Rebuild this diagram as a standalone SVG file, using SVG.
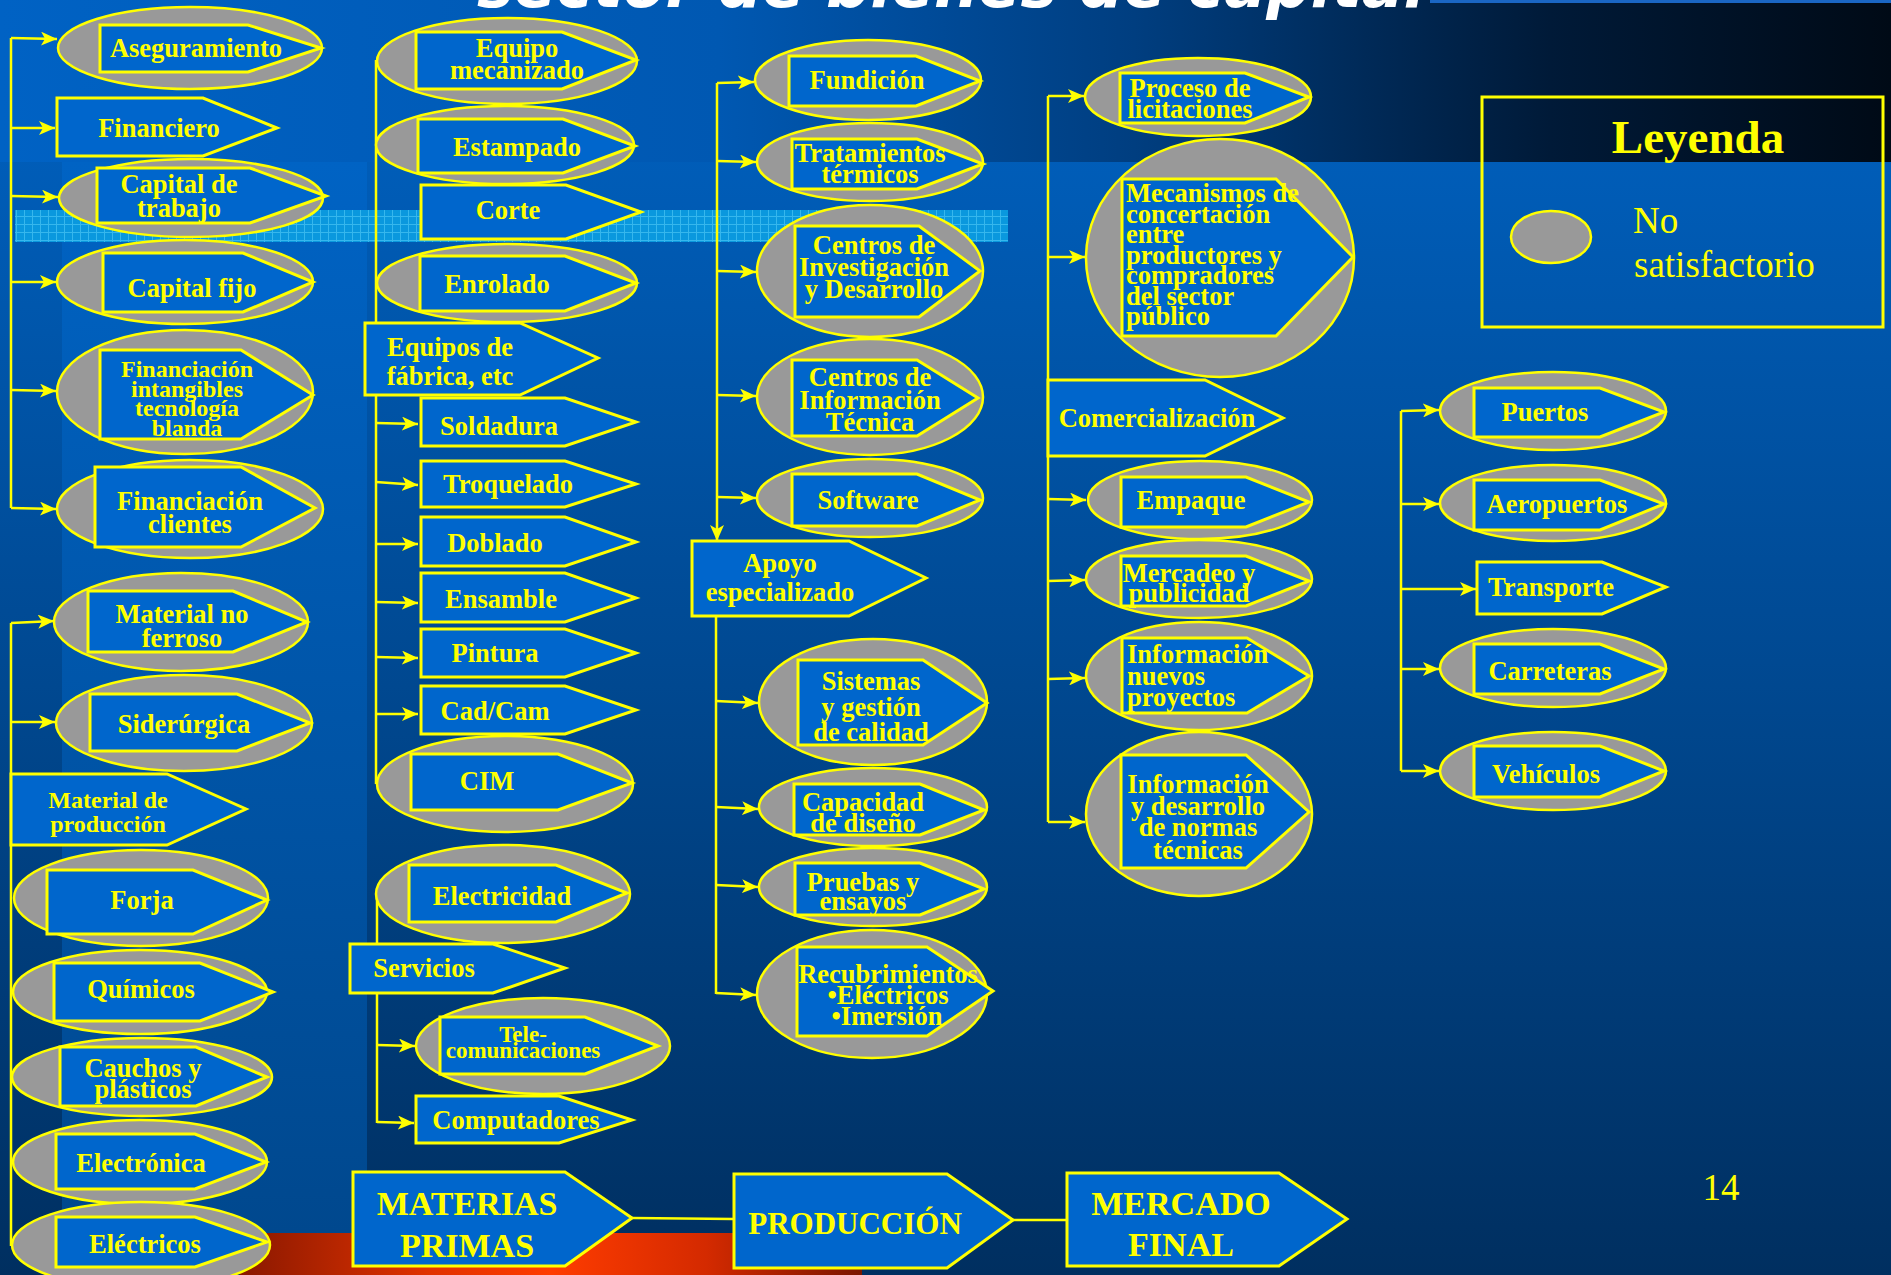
<svg xmlns="http://www.w3.org/2000/svg" width="1891" height="1275" viewBox="0 0 1891 1275">
  <defs>
    <linearGradient id="bgMain" x1="0" y1="0" x2="0" y2="1">
      <stop offset="0" stop-color="#0063c4"/>
      <stop offset="0.5" stop-color="#004a94"/>
      <stop offset="1" stop-color="#002f60"/>
    </linearGradient>
    <linearGradient id="bgPanel" x1="0" y1="0" x2="0" y2="1">
      <stop offset="0" stop-color="#0063c4"/>
      <stop offset="1" stop-color="#00488e"/>
    </linearGradient>
    <linearGradient id="bgTop" x1="0" y1="0" x2="1" y2="0">
      <stop offset="0" stop-color="#0062c4"/>
      <stop offset="0.38" stop-color="#0058b2"/>
      <stop offset="0.6" stop-color="#003e80"/>
      <stop offset="0.82" stop-color="#001a38"/>
      <stop offset="1" stop-color="#000a16"/>
    </linearGradient>
    <linearGradient id="redBar" x1="0" y1="0" x2="1" y2="0">
      <stop offset="0" stop-color="#8a1800"/>
      <stop offset="0.3" stop-color="#e03200"/>
      <stop offset="0.5" stop-color="#ff3c00"/>
      <stop offset="0.75" stop-color="#d42a00"/>
      <stop offset="1" stop-color="#7a1600"/>
    </linearGradient>
    <pattern id="grid" x="0" y="0" width="8" height="8" patternUnits="userSpaceOnUse">
      <rect width="8" height="8" fill="#0a98de"/>
      <path d="M0,0.5 H8 M0.5,0 V8" stroke="#48c4f4" stroke-width="1" opacity="0.7"/>
    </pattern>
    <marker id="arr" markerUnits="userSpaceOnUse" markerWidth="17" markerHeight="14" refX="16" refY="7" orient="auto">
      <path d="M0,0 L16,7 L0,14 L4,7 z" fill="#ffff00"/>
    </marker>
  </defs>
  <style>
    .ell { fill: #999999; stroke: #ffff00; stroke-width: 2.5; }
    .pent { fill: #0066cc; stroke: #ffff00; stroke-width: 3; stroke-linejoin: miter; }
    .lbl { font-family: "Liberation Serif", "Times New Roman", serif; font-weight: bold; font-size: 26.5px; fill: #ffff00; text-anchor: middle; }
    .lft { text-anchor: start; }
    .sm { font-size: 24px; }
    .xs { font-size: 23px; }
    .mid { font-size: 31px; }
    .big { font-size: 34px; }
    .head { font-size: 47px; }
    .wire { stroke: #ffff00; stroke-width: 2.5; fill: none; }
    .arw { marker-end: url(#arr); }
    .plain { font-family: "Liberation Serif", "Times New Roman", serif; font-size: 37px; fill: #ffff00; }
  </style>

  <!-- background -->
  <g id="background">
    <rect x="0" y="0" width="1891" height="1275" fill="url(#bgMain)"/>
    <rect x="62" y="162" width="305" height="1071" fill="url(#bgPanel)"/>
    <rect x="0" y="0" width="1891" height="162" fill="url(#bgTop)"/>
    <rect x="1430" y="0" width="461" height="3" fill="#1a66c4"/>
    <rect x="15" y="210" width="993" height="32" fill="url(#grid)"/>
    <rect x="240" y="1233" width="622" height="42" fill="url(#redBar)"/>
    <text x="477" y="7" font-family="DejaVu Sans, sans-serif" font-weight="bold" font-style="italic" font-size="62" fill="#ffffff" textLength="948" lengthAdjust="spacingAndGlyphs">sector de bienes de capital</text>
  </g>

  <!-- connectors -->
  <g id="connectors">
    <!-- column 1, upper -->
    <path class="wire" d="M11,38 V508"/>
    <path class="wire arw" d="M11,38 L57,39"/>
    <path class="wire arw" d="M11,128 L55,128"/>
    <path class="wire arw" d="M11,196 L58,197"/>
    <path class="wire arw" d="M11,282 L56,282"/>
    <path class="wire arw" d="M11,390 L56,391"/>
    <path class="wire arw" d="M11,508 L56,509"/>
    <!-- column 1, lower -->
    <path class="wire" d="M11,623 V1246"/>
    <path class="wire arw" d="M11,623 L54,621"/>
    <path class="wire arw" d="M11,722 L55,722"/>
    <!-- column 2 -->
    <path class="wire" d="M376,60 V784"/>
    <path class="wire arw" d="M376,423 L418,424"/>
    <path class="wire arw" d="M376,482 L418,485"/>
    <path class="wire arw" d="M376,544 L418,544"/>
    <path class="wire arw" d="M376,602 L418,603"/>
    <path class="wire arw" d="M376,657 L418,658"/>
    <path class="wire arw" d="M376,714 L418,714"/>
    <path class="wire" d="M377,894 V1123"/>
    <path class="wire arw" d="M377,1045 L415,1046"/>
    <path class="wire arw" d="M377,1122 L414,1123"/>
    <!-- main chain -->
    <path class="wire" d="M632,1218 L734,1219"/>
    <path class="wire" d="M1013,1220 L1067,1220"/>
    <!-- column 3 -->
    <path class="wire arw" d="M717,83 V541"/>
    <path class="wire arw" d="M717,83 L754,82"/>
    <path class="wire arw" d="M717,161 L756,162"/>
    <path class="wire arw" d="M717,271 L756,272"/>
    <path class="wire arw" d="M717,395 L756,396"/>
    <path class="wire arw" d="M717,497 L756,498"/>
    <path class="wire" d="M716,616 V994"/>
    <path class="wire arw" d="M716,701 L758,703"/>
    <path class="wire arw" d="M716,807 L758,809"/>
    <path class="wire arw" d="M716,885 L758,887"/>
    <path class="wire arw" d="M716,993 L756,995"/>
    <!-- column 4 -->
    <path class="wire" d="M1048,96 V822"/>
    <path class="wire arw" d="M1048,96 L1084,96"/>
    <path class="wire arw" d="M1048,257 L1085,257"/>
    <path class="wire arw" d="M1048,499 L1086,500"/>
    <path class="wire arw" d="M1048,581 L1085,580"/>
    <path class="wire arw" d="M1048,679 L1085,678"/>
    <path class="wire arw" d="M1048,822 L1085,822"/>
    <!-- column 5 -->
    <path class="wire" d="M1401,411 V771"/>
    <path class="wire arw" d="M1401,411 L1439,410"/>
    <path class="wire arw" d="M1401,504 L1439,504"/>
    <path class="wire arw" d="M1401,589 L1476,589"/>
    <path class="wire arw" d="M1401,669 L1439,669"/>
    <path class="wire arw" d="M1401,771 L1439,771"/>
  </g>

  <!-- column 1 -->
  <g id="n-aseguramiento">
    <ellipse class="ell" cx="190" cy="48" rx="132" ry="41"/>
    <polygon class="pent" points="100,25 248,25 321,48 248,72 100,72"/>
    <text class="lbl" x="196" y="57">Aseguramiento</text>
  </g>
  <g id="n-financiero">
    <polygon class="pent" points="57,98 203,98 277,128 203,156 57,156"/>
    <text class="lbl" x="159" y="137">Financiero</text>
  </g>
  <g id="n-capital-trabajo">
    <ellipse class="ell" cx="191" cy="198" rx="132" ry="39"/>
    <polygon class="pent" points="97,168 250,168 326,196 250,223 97,223"/>
    <text class="lbl" x="179"><tspan x="179" y="193">Capital de</tspan><tspan x="179" y="217">trabajo</tspan></text>
  </g>
  <g id="n-capital-fijo">
    <ellipse class="ell" cx="185" cy="282" rx="128" ry="42"/>
    <polygon class="pent" points="103,253 243,253 313,282 243,312 103,312"/>
    <text class="lbl" x="192" y="297">Capital fijo</text>
  </g>
  <g id="n-fin-intangibles">
    <ellipse class="ell" cx="185" cy="392" rx="128" ry="62"/>
    <polygon class="pent" points="100,350 241,350 313,395 241,439 100,439"/>
    <text class="lbl sm" x="187"><tspan x="187" y="377">Financiación</tspan><tspan x="187" y="397">intangibles</tspan><tspan x="187" y="416">tecnología</tspan><tspan x="187" y="436">blanda</tspan></text>
  </g>
  <g id="n-fin-clientes">
    <ellipse class="ell" cx="190" cy="509" rx="133" ry="49"/>
    <polygon class="pent" points="95,467 241,467 315,508 241,547 95,547"/>
    <text class="lbl" x="190"><tspan x="190" y="510">Financiación</tspan><tspan x="190" y="533">clientes</tspan></text>
  </g>
  <g id="n-material-no-ferroso">
    <ellipse class="ell" cx="181" cy="622" rx="127" ry="49"/>
    <polygon class="pent" points="88,591 233,591 307,622 233,652 88,652"/>
    <text class="lbl" x="182"><tspan x="182" y="623">Material no</tspan><tspan x="182" y="647">ferroso</tspan></text>
  </g>
  <g id="n-siderurgica">
    <ellipse class="ell" cx="184" cy="723" rx="128" ry="48"/>
    <polygon class="pent" points="90,694 237,694 310,723 237,751 90,751"/>
    <text class="lbl" x="184" y="733">Siderúrgica</text>
  </g>
  <g id="n-material-produccion">
    <polygon class="pent" points="11,774 167,774 246,809 167,845 11,845"/>
    <text class="lbl sm" x="108"><tspan x="108" y="808">Material de</tspan><tspan x="108" y="832">producción</tspan></text>
  </g>
  <g id="n-forja">
    <ellipse class="ell" cx="141" cy="898" rx="127" ry="48"/>
    <polygon class="pent" points="47,870 193,870 267,900 193,934 47,934"/>
    <text class="lbl" x="142" y="909">Forja</text>
  </g>
  <g id="n-quimicos">
    <ellipse class="ell" cx="140" cy="992" rx="127" ry="42"/>
    <polygon class="pent" points="54,963 200,963 273,992 200,1021 54,1021"/>
    <text class="lbl" x="141" y="998">Químicos</text>
  </g>
  <g id="n-cauchos">
    <ellipse class="ell" cx="142" cy="1077" rx="130" ry="39"/>
    <polygon class="pent" points="60,1047 196,1047 267,1077 196,1106 60,1106"/>
    <text class="lbl" x="143"><tspan x="143" y="1077">Cauchos y</tspan><tspan x="143" y="1098">plásticos</tspan></text>
  </g>
  <g id="n-electronica">
    <ellipse class="ell" cx="140" cy="1162" rx="127" ry="42"/>
    <polygon class="pent" points="56,1134 195,1134 266,1162 195,1189 56,1189"/>
    <text class="lbl" x="141" y="1172">Electrónica</text>
  </g>
  <g id="n-electricos">
    <ellipse class="ell" cx="141" cy="1245" rx="129" ry="43"/>
    <polygon class="pent" points="56,1217 195,1217 267,1242 195,1267 56,1267"/>
    <text class="lbl" x="145" y="1253">Eléctricos</text>
  </g>

  <!-- column 2 -->
  <g id="n-equipo-mecanizado">
    <ellipse class="ell" cx="507" cy="61" rx="130" ry="43"/>
    <polygon class="pent" points="416,32 562,32 636,60 562,89 416,89"/>
    <text class="lbl" x="517"><tspan x="517" y="57">Equipo</tspan><tspan x="517" y="79">mecanizado</tspan></text>
  </g>
  <g id="n-estampado">
    <ellipse class="ell" cx="505" cy="145" rx="129" ry="39"/>
    <polygon class="pent" points="418,119 563,119 635,146 563,173 418,173"/>
    <text class="lbl" x="517" y="156">Estampado</text>
  </g>
  <g id="n-corte">
    <polygon class="pent" points="421,185 566,185 641,212 566,239 421,239"/>
    <text class="lbl" x="508" y="219">Corte</text>
  </g>
  <g id="n-enrolado">
    <ellipse class="ell" cx="507" cy="283" rx="130" ry="39"/>
    <polygon class="pent" points="420,256 565,256 636,283 565,311 420,311"/>
    <text class="lbl" x="497" y="293">Enrolado</text>
  </g>
  <g id="n-equipos-fabrica">
    <polygon class="pent" points="365,323 520,323 598,358 520,395 365,395"/>
    <text class="lbl" x="450"><tspan x="450" y="356">Equipos de</tspan><tspan x="450" y="385">fábrica, etc</tspan></text>
  </g>
  <g id="n-soldadura">
    <polygon class="pent" points="421,398 565,398 636,422 565,446 421,446"/>
    <text class="lbl" x="499" y="435">Soldadura</text>
  </g>
  <g id="n-troquelado">
    <polygon class="pent" points="421,461 565,461 636,484 565,507 421,507"/>
    <text class="lbl" x="508" y="493">Troquelado</text>
  </g>
  <g id="n-doblado">
    <polygon class="pent" points="421,517 565,517 636,542 565,566 421,566"/>
    <text class="lbl" x="495" y="552">Doblado</text>
  </g>
  <g id="n-ensamble">
    <polygon class="pent" points="421,573 565,573 636,598 565,622 421,622"/>
    <text class="lbl" x="501" y="608">Ensamble</text>
  </g>
  <g id="n-pintura">
    <polygon class="pent" points="421,629 565,629 636,653 565,677 421,677"/>
    <text class="lbl" x="495" y="662">Pintura</text>
  </g>
  <g id="n-cadcam">
    <polygon class="pent" points="421,686 565,686 636,710 565,734 421,734"/>
    <text class="lbl" x="495" y="720">Cad/Cam</text>
  </g>
  <g id="n-cim">
    <ellipse class="ell" cx="505" cy="784" rx="128" ry="48"/>
    <polygon class="pent" points="411,754 558,754 632,783 558,810 411,810"/>
    <text class="lbl" x="487" y="790">CIM</text>
  </g>
  <g id="n-electricidad">
    <ellipse class="ell" cx="503" cy="894" rx="127" ry="49"/>
    <polygon class="pent" points="409,865 556,865 627,893 556,922 409,922"/>
    <text class="lbl" x="502" y="905">Electricidad</text>
  </g>
  <g id="n-servicios">
    <polygon class="pent" points="350,944 493,944 565,968 493,993 350,993"/>
    <text class="lbl" x="424" y="977">Servicios</text>
  </g>
  <g id="n-telecomunicaciones">
    <ellipse class="ell" cx="543" cy="1046" rx="127" ry="48"/>
    <polygon class="pent" points="440,1017 585,1017 658,1046 585,1074 440,1074"/>
    <text class="lbl xs" x="523"><tspan x="523" y="1042">Tele-</tspan><tspan x="523" y="1058">comunicaciones</tspan></text>
  </g>
  <g id="n-computadores">
    <polygon class="pent" points="416,1096 559,1096 632,1120 559,1143 416,1143"/>
    <text class="lbl" x="516" y="1129">Computadores</text>
  </g>

  <!-- main chain -->
  <g id="n-materias-primas">
    <polygon class="pent" points="353,1172 565,1172 632,1218 565,1266 353,1266"/>
    <text class="lbl big" x="467"><tspan x="467" y="1215">MATERIAS</tspan><tspan x="467" y="1257">PRIMAS</tspan></text>
  </g>
  <g id="n-produccion">
    <polygon class="pent" points="734,1174 947,1174 1013,1220 947,1268 734,1268"/>
    <text class="lbl mid" x="855" y="1234">PRODUCCIÓN</text>
  </g>
  <g id="n-mercado-final">
    <polygon class="pent" points="1067,1173 1279,1173 1347,1219 1279,1266 1067,1266"/>
    <text class="lbl big" x="1181"><tspan x="1181" y="1215">MERCADO</tspan><tspan x="1181" y="1256">FINAL</tspan></text>
  </g>

  <!-- column 3 -->
  <g id="n-fundicion">
    <ellipse class="ell" cx="868" cy="80" rx="113" ry="40"/>
    <polygon class="pent" points="789,56 916,56 980,81 916,106 789,106"/>
    <text class="lbl" x="867" y="89">Fundición</text>
  </g>
  <g id="n-tratamientos">
    <ellipse class="ell" cx="870" cy="162" rx="113" ry="39"/>
    <polygon class="pent" points="792,139 917,139 983,164 917,189 792,189"/>
    <text class="lbl" x="870"><tspan x="870" y="162">Tratamientos</tspan><tspan x="870" y="183">térmicos</tspan></text>
  </g>
  <g id="n-centros-id">
    <ellipse class="ell" cx="870" cy="271" rx="113" ry="66"/>
    <polygon class="pent" points="795,226 919,226 980,271 919,317 795,317"/>
    <text class="lbl" x="874"><tspan x="874" y="254">Centros de</tspan><tspan x="874" y="276">Investigación</tspan><tspan x="874" y="298">y Desarrollo</tspan></text>
  </g>
  <g id="n-centros-it">
    <ellipse class="ell" cx="870" cy="397" rx="113" ry="58"/>
    <polygon class="pent" points="792,360 917,360 978,398 917,436 792,436"/>
    <text class="lbl" x="870"><tspan x="870" y="386">Centros de</tspan><tspan x="870" y="409">Información</tspan><tspan x="870" y="431">Técnica</tspan></text>
  </g>
  <g id="n-software">
    <ellipse class="ell" cx="870" cy="498" rx="113" ry="39"/>
    <polygon class="pent" points="792,474 917,474 980,500 917,526 792,526"/>
    <text class="lbl" x="868" y="509">Software</text>
  </g>
  <g id="n-apoyo">
    <polygon class="pent" points="692,541 849,541 926,578 849,616 692,616"/>
    <text class="lbl" x="780"><tspan x="780" y="572">Apoyo</tspan><tspan x="780" y="601">especializado</tspan></text>
  </g>
  <g id="n-sistemas">
    <ellipse class="ell" cx="873" cy="702" rx="114" ry="63"/>
    <polygon class="pent" points="798,660 923,660 987,703 923,745 798,745"/>
    <text class="lbl" x="871"><tspan x="871" y="690">Sistemas</tspan><tspan x="871" y="716">y gestión</tspan><tspan x="871" y="741">de calidad</tspan></text>
  </g>
  <g id="n-capacidad">
    <ellipse class="ell" cx="873" cy="807" rx="114" ry="39"/>
    <polygon class="pent" points="794,784 920,784 984,810 920,835 794,835"/>
    <text class="lbl" x="863"><tspan x="863" y="811">Capacidad</tspan><tspan x="863" y="832">de diseño</tspan></text>
  </g>
  <g id="n-pruebas">
    <ellipse class="ell" cx="873" cy="887" rx="114" ry="39"/>
    <polygon class="pent" points="795,863 920,863 984,889 920,915 795,915"/>
    <text class="lbl" x="863"><tspan x="863" y="891">Pruebas y</tspan><tspan x="863" y="910">ensayos</tspan></text>
  </g>
  <g id="n-recubrimientos">
    <ellipse class="ell" cx="872" cy="994" rx="115" ry="64"/>
    <polygon class="pent" points="797,947 927,947 993,991 927,1036 797,1036"/>
    <text class="lbl" x="888"><tspan x="888" y="983">Recubrimientos</tspan><tspan x="888" y="1004">•Eléctricos</tspan><tspan x="887" y="1025">•Imersión</tspan></text>
  </g>

  <!-- column 4 -->
  <g id="n-licitaciones">
    <ellipse class="ell" cx="1198" cy="97" rx="113" ry="39"/>
    <polygon class="pent" points="1120,73 1245,73 1309,97 1245,123 1120,123"/>
    <text class="lbl" x="1190"><tspan x="1190" y="97">Proceso de</tspan><tspan x="1190" y="118">licitaciones</tspan></text>
  </g>
  <g id="n-mecanismos">
    <ellipse class="ell" cx="1220" cy="258" rx="134" ry="119"/>
    <polygon class="pent" points="1122,179 1276,179 1353,257 1276,336 1122,336"/>
    <text class="lbl lft" x="1126"><tspan x="1126" y="202">Mecanismos de</tspan><tspan x="1126" y="223">concertación</tspan><tspan x="1126" y="243">entre</tspan><tspan x="1126" y="264">productores y</tspan><tspan x="1126" y="284">compradores</tspan><tspan x="1126" y="305">del sector</tspan><tspan x="1126" y="325">público</tspan></text>
  </g>
  <g id="n-comercializacion">
    <polygon class="pent" points="1048,380 1205,380 1283,418 1205,456 1048,456"/>
    <text class="lbl" x="1157" y="427">Comercialización</text>
  </g>
  <g id="n-empaque">
    <ellipse class="ell" cx="1200" cy="500" rx="112" ry="39"/>
    <polygon class="pent" points="1121,477 1246,477 1309,502 1246,527 1121,527"/>
    <text class="lbl" x="1191" y="509">Empaque</text>
  </g>
  <g id="n-mercadeo">
    <ellipse class="ell" cx="1199" cy="579" rx="113" ry="39"/>
    <polygon class="pent" points="1121,556 1246,556 1309,581 1246,606 1121,606"/>
    <text class="lbl" x="1189"><tspan x="1189" y="582">Mercadeo y</tspan><tspan x="1189" y="602">publicidad</tspan></text>
  </g>
  <g id="n-info-nuevos">
    <ellipse class="ell" cx="1199" cy="676" rx="113" ry="54"/>
    <polygon class="pent" points="1122,638 1247,638 1309,676 1247,713 1122,713"/>
    <text class="lbl lft" x="1127"><tspan x="1127" y="663">Información</tspan><tspan x="1127" y="685">nuevos</tspan><tspan x="1127" y="706">proyectos</tspan></text>
  </g>
  <g id="n-info-normas">
    <ellipse class="ell" cx="1199" cy="814" rx="113" ry="82"/>
    <polygon class="pent" points="1121,755 1246,755 1309,812 1246,868 1121,868"/>
    <text class="lbl" x="1198"><tspan x="1198" y="793">Información</tspan><tspan x="1198" y="815">y desarrollo</tspan><tspan x="1198" y="836">de normas</tspan><tspan x="1198" y="859">técnicas</tspan></text>
  </g>

  <!-- column 5 -->
  <g id="n-puertos">
    <ellipse class="ell" cx="1553" cy="411" rx="113" ry="39"/>
    <polygon class="pent" points="1474,388 1600,388 1664,412 1600,437 1474,437"/>
    <text class="lbl" x="1545" y="421">Puertos</text>
  </g>
  <g id="n-aeropuertos">
    <ellipse class="ell" cx="1553" cy="503" rx="113" ry="38"/>
    <polygon class="pent" points="1474,480 1600,480 1664,504 1600,530 1474,530"/>
    <text class="lbl" x="1557" y="513">Aeropuertos</text>
  </g>
  <g id="n-transporte">
    <polygon class="pent" points="1477,562 1602,562 1666,587 1602,614 1477,614"/>
    <text class="lbl" x="1551" y="596">Transporte</text>
  </g>
  <g id="n-carreteras">
    <ellipse class="ell" cx="1553" cy="668" rx="113" ry="39"/>
    <polygon class="pent" points="1474,644 1600,644 1664,669 1600,694 1474,694"/>
    <text class="lbl" x="1550" y="680">Carreteras</text>
  </g>
  <g id="n-vehiculos">
    <ellipse class="ell" cx="1553" cy="771" rx="113" ry="39"/>
    <polygon class="pent" points="1474,746 1600,746 1664,771 1600,797 1474,797"/>
    <text class="lbl" x="1546" y="783">Vehículos</text>
  </g>

  <!-- legend -->
  <g id="legend">
    <rect x="1482" y="97" width="401" height="230" fill="none" stroke="#ffff00" stroke-width="3"/>
    <text class="lbl head" x="1698" y="153">Leyenda</text>
    <ellipse class="ell" cx="1551" cy="237" rx="40" ry="26"/>
    <text class="plain" x="1633" y="233">No</text>
    <text class="plain" x="1634" y="277">satisfactorio</text>
  </g>

  <text class="plain" x="1721" y="1200" text-anchor="middle">14</text>
</svg>
